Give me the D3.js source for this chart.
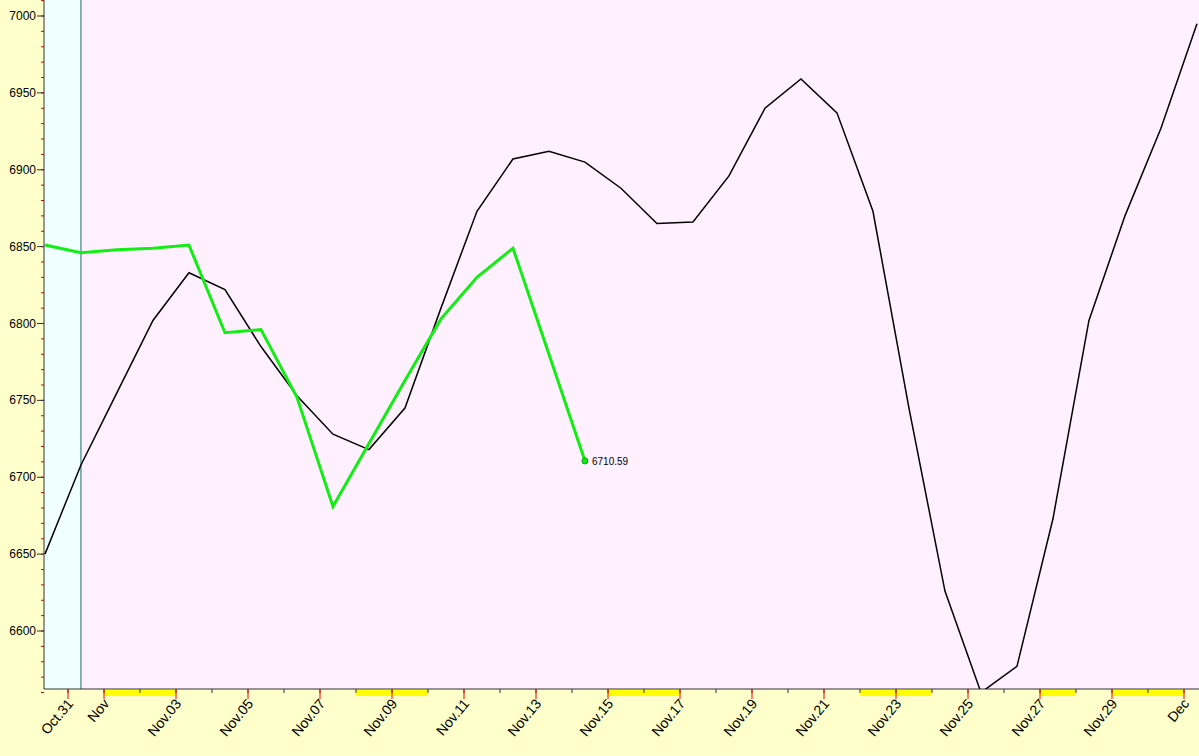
<!DOCTYPE html><html><head><meta charset="utf-8"><script src="https://cdn.jsdelivr.net/npm/d3@7"></script>
<style>body{margin:0;background:#FFFFCC}svg{display:block}</style></head><body><svg width="1199" height="756"></svg><script>
// x positions are day offsets relative to Oct 31 (0 = Oct 31)
const startDay=-0.64;
const blackY=[6650,6708,6755,6802,6833,6822,6785,6753,6728,6718,6745,6810,6873,6907,6912,6905,6888,6865,6866,6896,6940,6959,6937,6873,6745,6626,6560,6577,6673,6802,6870,6927,6995];
const greenY=[6851,6846,6848,6849,6851,6794,6796,6752,6681,6722,6763,6803,6830,6849,6780,6710.59];
const tickDays=[0,1,3,5,7,9,11,13,15,17,19,21,23,25,27,29,31];
const tickLabels=["Oct.31","Nov","Nov.03","Nov.05","Nov.07","Nov.09","Nov.11","Nov.13","Nov.15","Nov.17","Nov.19","Nov.21","Nov.23","Nov.25","Nov.27","Nov.29","Dec"];
const yTicks=[6600,6650,6700,6750,6800,6850,6900,6950,7000];
const yellowBands=[[1,3],[8,10],[15,17],[22,24],[27,28],[29,31]];
const lastLabel="6710.59";

const svg=d3.select("svg");
const L=44,R=1199,T=0,B=689;
const bx=blackY.map((d,i)=>startDay+i), gx=greenY.map((d,i)=>startDay+i);
const x=d3.scaleLinear().domain([0,1]).range([68,104]);
const y=d3.scaleLinear().domain([6600,7000]).range([631,16]);
const F="Liberation Sans,Arial";
svg.append("rect").attr("x",L).attr("y",T).attr("width",R-L).attr("height",B-T).attr("fill","#FFF0FF");
svg.append("rect").attr("x",L).attr("y",T).attr("width",x(startDay+1)-L).attr("height",B-T).attr("fill","#F0FFFF");
svg.append("line").attr("x1",x(startDay+1)).attr("x2",x(startDay+1)).attr("y1",T).attr("y2",B).attr("stroke","#1a6a6a");
yellowBands.forEach(b=>svg.append("rect").attr("x",x(b[0])).attr("y",B+1).attr("width",x(b[1])-x(b[0])).attr("height",6).attr("fill","#FFFF00"));
svg.append("line").attr("x1",L).attr("x2",R).attr("y1",B).attr("y2",B).attr("stroke","#333");
svg.append("line").attr("x1",L).attr("x2",L).attr("y1",T).attr("y2",B).attr("stroke","#333");
d3.range(6560,7011,10).forEach(v=>svg.append("line").attr("x1",L-3).attr("x2",L).attr("y1",y(v)).attr("y2",y(v)).attr("stroke","#cc0000"));
yTicks.forEach(v=>{svg.append("line").attr("x1",L-7).attr("x2",L).attr("y1",y(v)).attr("y2",y(v)).attr("stroke","#333");
 svg.append("text").attr("x",L-8).attr("y",y(v)+4).attr("text-anchor","end").attr("font-family",F).attr("font-size",12).text(v);});
d3.range(0,32).forEach(d=>svg.append("line").attr("x1",x(d)).attr("x2",x(d)).attr("y1",B).attr("y2",B+4).attr("stroke","#333"));
tickDays.forEach((d,i)=>{svg.append("line").attr("x1",x(d)).attr("x2",x(d)).attr("y1",B).attr("y2",B+10).attr("stroke","#ee0000");
 svg.append("text").attr("transform",`translate(${x(d)+6},${B+15}) rotate(-50)`).attr("text-anchor","end").attr("font-family",F).attr("font-size",14).text(tickLabels[i]);});
const line=d3.line().x(d=>x(d[0])).y(d=>y(d[1]));
svg.append("clipPath").attr("id","c").append("rect").attr("x",L).attr("y",T).attr("width",R-L).attr("height",B-T);
svg.append("path").attr("clip-path","url(#c)").attr("d",line(blackY.map((v,i)=>[bx[i],v]))).attr("fill","none").attr("stroke","#000").attr("stroke-width",1.5);
svg.append("path").attr("d",line(greenY.map((v,i)=>[gx[i],v]))).attr("fill","none").attr("stroke","#11EE11").attr("stroke-width",3);
const li=greenY.length-1;
svg.append("circle").attr("cx",x(gx[li])).attr("cy",y(greenY[li])).attr("r",3).attr("fill","#11EE11").attr("stroke","#119911");
svg.append("text").attr("x",x(gx[li])+7).attr("y",y(greenY[li])+4).attr("font-family",F).attr("font-size",10).text(lastLabel);
</script></body></html>
